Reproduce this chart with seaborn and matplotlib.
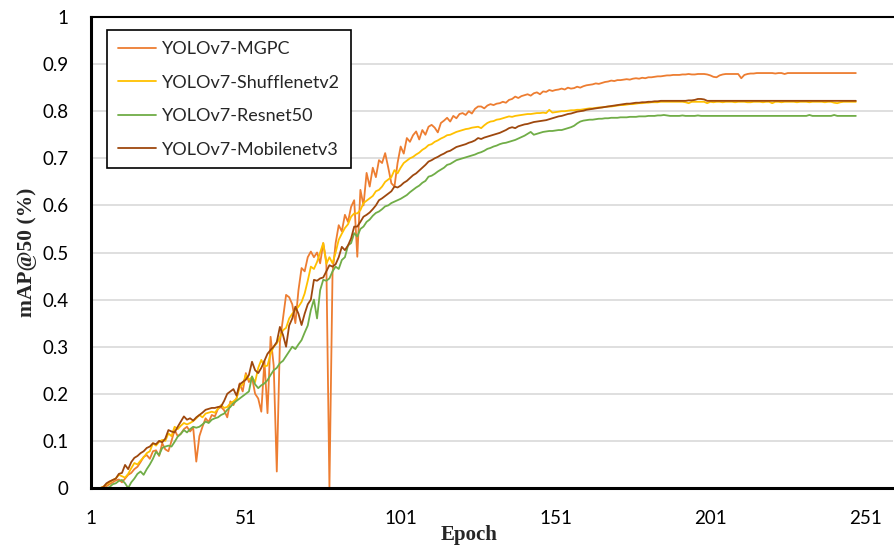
import matplotlib
matplotlib.use("Agg")
import matplotlib.pyplot as plt
import seaborn as sns
import pandas as pd

models = ["YOLOv7-MGPC", "YOLOv7-Shufflenetv2", "YOLOv7-Resnet50", "YOLOv7-Mobilenetv3"]
colors = ["#ED7D31", "#FFC000", "#70AD47", "#9E480E"]
epochs = list(range(1, 249))
x_ticks = [1, 51, 101, 151, 201, 251]
y_ticks = [0, 0.1, 0.2, 0.3, 0.4, 0.5, 0.6, 0.7, 0.8, 0.9, 1]
y_tick_labels = ["0", "0.1", "0.2", "0.3", "0.4", "0.5", "0.6", "0.7", "0.8", "0.9", "1"]

mgpc = [
    0, 0, 0, 0, 0, 0.004, 0.008, 0.012, 0.016, 0.018,
    0.012, 0.02, 0.028, 0.032, 0.04, 0.045, 0.055, 0.066, 0.07, 0.062,
    0.078, 0.08, 0.068, 0.095, 0.082, 0.078, 0.1, 0.123, 0.11, 0.115,
    0.125, 0.13, 0.12, 0.128, 0.056, 0.11, 0.13, 0.148, 0.14, 0.155,
    0.152, 0.168, 0.172, 0.165, 0.15, 0.184, 0.176, 0.19, 0.222, 0.205,
    0.244, 0.225, 0.235, 0.2, 0.19, 0.162, 0.27, 0.159, 0.321, 0.26,
    0.035, 0.31, 0.36, 0.41, 0.405, 0.39, 0.35, 0.42, 0.467, 0.46,
    0.49, 0.502, 0.49, 0.5, 0.477, 0.52, 0.48, 0.0, 0.456, 0.52,
    0.558, 0.545, 0.58, 0.565, 0.597, 0.611, 0.491, 0.633, 0.6, 0.669,
    0.64, 0.68, 0.66, 0.696, 0.69, 0.711, 0.68, 0.647, 0.64, 0.69,
    0.725, 0.71, 0.743, 0.735, 0.749, 0.757, 0.74, 0.76, 0.75, 0.767,
    0.771, 0.765, 0.755, 0.775, 0.78, 0.786, 0.778, 0.79, 0.785, 0.794,
    0.796, 0.792, 0.8, 0.795, 0.805, 0.81, 0.81, 0.806, 0.812, 0.815,
    0.813, 0.816, 0.817, 0.82, 0.818, 0.824, 0.826, 0.831, 0.828, 0.832,
    0.834, 0.836, 0.833, 0.838, 0.84, 0.836, 0.842, 0.841, 0.845, 0.843,
    0.845, 0.846, 0.848, 0.846, 0.85, 0.848, 0.849, 0.852, 0.85, 0.853,
    0.855, 0.856, 0.857, 0.859, 0.858, 0.86, 0.862, 0.863, 0.865, 0.864,
    0.866, 0.866, 0.867, 0.868, 0.867, 0.869, 0.87, 0.869, 0.871, 0.87,
    0.872, 0.872, 0.873, 0.874, 0.874, 0.875, 0.876, 0.876, 0.877, 0.877,
    0.877, 0.878, 0.878, 0.879, 0.878, 0.878, 0.879, 0.879, 0.879, 0.878,
    0.876, 0.873, 0.872, 0.876, 0.878, 0.879, 0.879, 0.879, 0.879, 0.879,
    0.87, 0.877, 0.879, 0.88, 0.88, 0.881, 0.881, 0.881, 0.881, 0.881,
    0.881, 0.88, 0.881, 0.881, 0.879, 0.881, 0.881, 0.881, 0.881, 0.881,
    0.881, 0.881, 0.881, 0.881, 0.881, 0.881, 0.881, 0.881, 0.881, 0.881,
    0.881, 0.881, 0.881, 0.881, 0.881, 0.881, 0.881, 0.881,
]

shufflenet = [
    0, 0, 0, 0, 0.003, 0.008, 0.012, 0.017, 0.02, 0.028,
    0.025, 0.022, 0.03, 0.042, 0.053, 0.05, 0.058, 0.065, 0.074, 0.078,
    0.095, 0.09, 0.098, 0.102, 0.1, 0.116, 0.11, 0.13, 0.125, 0.132,
    0.138, 0.135, 0.138, 0.142, 0.148, 0.155, 0.15, 0.158, 0.16, 0.162,
    0.16, 0.168, 0.176, 0.17, 0.172, 0.18, 0.184, 0.19, 0.214, 0.22,
    0.24, 0.23, 0.235, 0.225, 0.255, 0.272, 0.258, 0.26, 0.285, 0.3,
    0.307, 0.32, 0.335, 0.34, 0.36, 0.37, 0.378, 0.385, 0.395, 0.413,
    0.44, 0.47, 0.465, 0.48, 0.5, 0.52, 0.476, 0.49, 0.477, 0.5,
    0.527, 0.54, 0.552, 0.56, 0.576, 0.583, 0.583, 0.59, 0.605, 0.61,
    0.615, 0.62, 0.63, 0.633, 0.64, 0.65, 0.655, 0.66, 0.675, 0.668,
    0.68, 0.69, 0.695, 0.7, 0.703, 0.708, 0.712, 0.718, 0.722, 0.728,
    0.73, 0.735, 0.738, 0.742, 0.745, 0.749, 0.75, 0.753, 0.756, 0.758,
    0.76, 0.762, 0.763, 0.765, 0.766, 0.767, 0.764, 0.77, 0.775, 0.778,
    0.779, 0.782, 0.783, 0.785, 0.787, 0.789, 0.788, 0.79, 0.791, 0.792,
    0.793, 0.794, 0.794, 0.795, 0.796, 0.796, 0.797, 0.796, 0.803, 0.797,
    0.798, 0.799, 0.8, 0.8, 0.801, 0.802, 0.802, 0.803, 0.803, 0.804,
    0.805, 0.806, 0.806, 0.807, 0.808, 0.808, 0.809, 0.81, 0.81, 0.811,
    0.812, 0.813, 0.813, 0.814, 0.815, 0.815, 0.816, 0.817, 0.817, 0.818,
    0.818, 0.819, 0.819, 0.819, 0.82, 0.82, 0.82, 0.82, 0.82, 0.82,
    0.82, 0.82, 0.819, 0.817, 0.82, 0.82, 0.82, 0.82, 0.82, 0.817,
    0.82, 0.819, 0.82, 0.82, 0.819, 0.82, 0.82, 0.82, 0.819, 0.82,
    0.82, 0.82, 0.819, 0.819, 0.82, 0.82, 0.82, 0.819, 0.82, 0.82,
    0.817, 0.82, 0.82, 0.819, 0.82, 0.82, 0.82, 0.82, 0.819, 0.82,
    0.82, 0.82, 0.819, 0.82, 0.82, 0.82, 0.82, 0.819, 0.82, 0.82,
    0.818, 0.817, 0.819, 0.82, 0.82, 0.82, 0.82, 0.82,
]

resnet = [
    0, 0, 0, 0, 0, 0, 0.002, 0.008, 0.01, 0.015,
    0.017, 0.01, 0.0, 0.012, 0.02, 0.03, 0.035, 0.028, 0.04, 0.05,
    0.062, 0.077, 0.07, 0.085, 0.088, 0.09, 0.088, 0.098, 0.109, 0.115,
    0.123, 0.118, 0.125, 0.13, 0.128, 0.13, 0.135, 0.141, 0.138, 0.145,
    0.148, 0.15, 0.155, 0.158, 0.166, 0.172, 0.18, 0.185, 0.19, 0.195,
    0.2, 0.205, 0.237, 0.22, 0.212, 0.218, 0.222, 0.229, 0.24, 0.25,
    0.255, 0.265, 0.27, 0.28, 0.29, 0.3, 0.295, 0.305, 0.314, 0.33,
    0.345, 0.378, 0.4, 0.36, 0.42, 0.442, 0.44, 0.445, 0.46, 0.47,
    0.465, 0.484, 0.49, 0.515, 0.52, 0.541, 0.534, 0.55, 0.555, 0.565,
    0.57, 0.578, 0.584, 0.587, 0.592, 0.598, 0.6, 0.605, 0.608, 0.611,
    0.614, 0.618, 0.622, 0.628, 0.633, 0.638, 0.642, 0.648, 0.652, 0.661,
    0.663, 0.667, 0.672, 0.676, 0.68, 0.686, 0.688, 0.692, 0.696, 0.698,
    0.7, 0.702, 0.704, 0.706, 0.708, 0.711, 0.713, 0.716, 0.72, 0.722,
    0.725, 0.727, 0.73, 0.732, 0.733, 0.735, 0.737, 0.739, 0.742, 0.745,
    0.748, 0.752, 0.756, 0.75, 0.752, 0.754, 0.756, 0.757, 0.758, 0.758,
    0.759, 0.76, 0.76, 0.762, 0.764, 0.766, 0.769, 0.774, 0.778, 0.78,
    0.781, 0.782, 0.782, 0.783, 0.784, 0.784, 0.785, 0.785, 0.786, 0.786,
    0.786, 0.787, 0.787, 0.787, 0.788, 0.788, 0.788, 0.789, 0.789, 0.789,
    0.79, 0.79, 0.79, 0.791, 0.791, 0.792, 0.791, 0.79, 0.79, 0.79,
    0.79, 0.791, 0.79, 0.79, 0.79, 0.79, 0.791, 0.79, 0.79, 0.79,
    0.79, 0.79, 0.79, 0.79, 0.79, 0.79, 0.79, 0.79, 0.79, 0.79,
    0.79, 0.79, 0.79, 0.79, 0.79, 0.79, 0.79, 0.79, 0.79, 0.79,
    0.79, 0.79, 0.79, 0.79, 0.79, 0.79, 0.79, 0.79, 0.79, 0.79,
    0.79, 0.79, 0.792, 0.79, 0.79, 0.79, 0.79, 0.79, 0.79, 0.79,
    0.792, 0.79, 0.79, 0.79, 0.79, 0.79, 0.79, 0.79,
]

mobilenet = [
    0, 0, 0, 0, 0.002, 0.01, 0.014, 0.017, 0.02, 0.03,
    0.032, 0.049, 0.04, 0.055, 0.064, 0.068, 0.074, 0.078, 0.085, 0.088,
    0.095, 0.093, 0.1, 0.097, 0.105, 0.123, 0.12, 0.118, 0.13, 0.141,
    0.152, 0.145, 0.148, 0.143, 0.15, 0.155, 0.16, 0.166, 0.168, 0.17,
    0.17, 0.172, 0.173, 0.185, 0.2, 0.205, 0.21, 0.196, 0.22, 0.225,
    0.23, 0.24, 0.268, 0.25, 0.244, 0.255, 0.27, 0.285, 0.293, 0.3,
    0.31, 0.342, 0.325, 0.3, 0.345, 0.36, 0.385, 0.37, 0.346, 0.37,
    0.39, 0.4, 0.442, 0.44, 0.445, 0.447, 0.46, 0.473, 0.47, 0.475,
    0.49, 0.512, 0.505, 0.515, 0.53, 0.555, 0.555, 0.565, 0.576, 0.58,
    0.585, 0.592, 0.6, 0.611, 0.615, 0.62, 0.625, 0.63, 0.64, 0.638,
    0.642, 0.648, 0.652, 0.658, 0.664, 0.668, 0.674, 0.68, 0.686, 0.693,
    0.696, 0.7, 0.703, 0.707, 0.71, 0.714, 0.716, 0.72, 0.724, 0.726,
    0.728, 0.73, 0.733, 0.735, 0.738, 0.743, 0.741, 0.744, 0.746, 0.748,
    0.75, 0.752, 0.754, 0.757, 0.76, 0.764, 0.766, 0.764, 0.768, 0.77,
    0.772, 0.773, 0.775, 0.777, 0.778, 0.779, 0.78, 0.781, 0.783, 0.785,
    0.787, 0.789, 0.79, 0.792, 0.794, 0.795, 0.797, 0.799, 0.8, 0.801,
    0.803, 0.804, 0.805, 0.806, 0.807, 0.808, 0.809, 0.81, 0.811, 0.812,
    0.813, 0.814, 0.815, 0.816, 0.816, 0.817, 0.818, 0.818, 0.819, 0.819,
    0.82, 0.82, 0.821, 0.821, 0.822, 0.822, 0.822, 0.822, 0.822, 0.822,
    0.822, 0.822, 0.822, 0.823, 0.823, 0.824, 0.826, 0.826, 0.825, 0.822,
    0.822, 0.822, 0.822, 0.822, 0.822, 0.822, 0.822, 0.822, 0.822, 0.822,
    0.822, 0.822, 0.822, 0.822, 0.822, 0.822, 0.822, 0.822, 0.822, 0.822,
    0.822, 0.822, 0.822, 0.822, 0.822, 0.822, 0.822, 0.822, 0.822, 0.822,
    0.822, 0.822, 0.822, 0.822, 0.822, 0.822, 0.822, 0.822, 0.822, 0.822,
    0.822, 0.822, 0.822, 0.822, 0.822, 0.822, 0.822, 0.822,
]

series = [mgpc, shufflenet, resnet, mobilenet]
df = pd.concat(
    [pd.DataFrame({"Epoch": epochs, "mAP": vals, "Model": name}) for name, vals in zip(models, series)],
    ignore_index=True,
)

sns.set_theme(style="white")
plt.rcParams["font.family"] = ["Lato", "DejaVu Sans"]

fig = plt.figure(figsize=(8.94, 5.47), dpi=100)
ax = fig.add_axes([91 / 894, 1 - 488 / 547, 802 / 894, 471 / 547])

sns.lineplot(
    data=df, x="Epoch", y="mAP", hue="Model", hue_order=models,
    palette=dict(zip(models, colors)), linewidth=1.3, errorbar=None, ax=ax,
)

ax.set_xlim(1, 260)
ax.set_ylim(0, 1)
ax.set_xticks(x_ticks)
ax.set_xticklabels([str(t) for t in x_ticks])
ax.set_yticks(y_ticks)
ax.set_yticklabels(y_tick_labels)
ax.tick_params(axis="both", length=0, labelsize=13.5, colors="#000000")
ax.tick_params(axis="y", pad=16)
ax.tick_params(axis="x", pad=16)
ax.yaxis.grid(True, color="#D9D9D9", linewidth=1.2)
ax.xaxis.grid(False)
ax.set_axisbelow(True)

for side in ["left", "bottom"]:
    ax.spines[side].set_color("black")
    ax.spines[side].set_linewidth(2.2)
ax.spines["top"].set_color("black")
ax.spines["top"].set_linewidth(1.5)
ax.spines["right"].set_visible(False)

serif = ["Liberation Serif", "DejaVu Serif"]
ax.set_xlabel("Epoch", fontsize=15, fontweight="bold", family=serif)
ax.set_ylabel("mAP@50 (%)", fontsize=15.5, fontweight="bold", family=serif)
ax.xaxis.set_label_coords((469 - 91) / 802, (488 - 525) / 471)
ax.yaxis.set_label_coords((37 - 91) / 802, 0.5)

leg = ax.legend(
    loc="upper left", bbox_to_anchor=(0.02, 0.972), borderaxespad=0,
    fontsize=13, frameon=True, fancybox=False, framealpha=1,
    edgecolor="black", handlelength=2.1, handletextpad=0.35,
    labelspacing=0.97, borderpad=0.6,
)
leg.get_frame().set_linewidth(1.2)
for line in leg.get_lines():
    line.set_linewidth(1.3)

fig.savefig("out.png", dpi=100)
